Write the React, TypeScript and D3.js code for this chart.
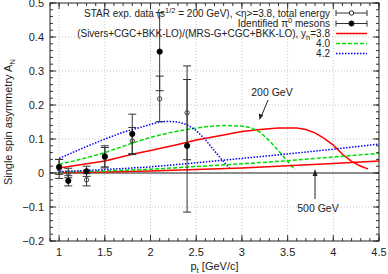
import React from "react";
import * as d3 from "d3";

// measured points (STAR)
const ptData = [1.0, 1.1, 1.3, 1.5, 1.8, 2.1, 2.4];
const piZero = [0.018, -0.023, 0.005, 0.049, 0.115, 0.357, 0.08];
const piZeroErr = [0.022, 0.015, 0.015, 0.031, 0.058, 0.115, 0.195];
const totalE = [0.012, 0.0, -0.02, 0.045, 0.094, 0.218, 0.177];
const totalEErr = [0.028, 0.014, 0.018, 0.03, 0.04, 0.067, 0.138];

// model curves, 200 GeV
const red200X = [1.0, 1.5, 1.8, 2.0, 2.3, 2.5, 2.8, 3.0, 3.2, 3.4, 3.6, 3.7, 3.8, 3.9, 4.0, 4.1, 4.2, 4.3, 4.38];
const red200Y = [0.015, 0.035, 0.055, 0.066, 0.084, 0.097, 0.112, 0.122, 0.128, 0.132, 0.132, 0.128, 0.118, 0.102, 0.082, 0.055, 0.034, 0.02, 0.012];
const green200X = [1.0, 1.3, 1.5, 1.8, 2.0, 2.2, 2.4, 2.6, 2.8, 3.0, 3.1, 3.2, 3.3, 3.4, 3.5, 3.58];
const green200Y = [0.025, 0.045, 0.06, 0.088, 0.105, 0.118, 0.128, 0.136, 0.14, 0.138, 0.133, 0.12, 0.095, 0.065, 0.035, 0.01];
const blue200X = [1.0, 1.3, 1.5, 1.7, 1.9, 2.0, 2.1, 2.2, 2.3, 2.4, 2.5, 2.6, 2.7, 2.8, 2.87];
const blue200Y = [0.043, 0.078, 0.1, 0.12, 0.135, 0.143, 0.15, 0.152, 0.15, 0.142, 0.125, 0.098, 0.065, 0.033, 0.012];

// model curves, 500 GeV
const x500 = [1.0, 1.5, 2.0, 2.5, 3.0, 3.5, 4.0, 4.5];
const red500 = [0.001, 0.003, 0.006, 0.01, 0.015, 0.021, 0.028, 0.035];
const green500 = [0.003, 0.006, 0.011, 0.019, 0.027, 0.036, 0.047, 0.058];
const blue500 = [0.004, 0.01, 0.018, 0.03, 0.043, 0.056, 0.07, 0.085];

const xTicks = [1, 1.5, 2, 2.5, 3, 3.5, 4, 4.5];
const yTicks = [-0.2, -0.1, 0, 0.1, 0.2, 0.3, 0.4, 0.5];

const W = 388;
const H = 274;
const left = 50;
const right = 379;
const top = 3;
const bottom = 241;

const FONT = "'Liberation Sans', Arial, Helvetica, sans-serif";
const RED = "#ff0000";
const GREEN = "#00dd00";
const BLUE = "#0000ff";
const BAR = "#333";

export default function App() {
  const x = d3.scaleLinear().domain([0.9, 4.5]).range([left, right]);
  const y = d3.scaleLinear().domain([-0.2, 0.5]).range([bottom, top]);
  const line = d3
    .line<[number, number]>()
    .x((d) => x(d[0]))
    .y((d) => y(d[1]));
  const zip = (xs: number[], ys: number[]) => xs.map((v, i) => [v, ys[i]] as [number, number]);

  const curves = [
    { d: zip(red200X, red200Y), c: RED, dash: "none", w: 1.5 },
    { d: zip(green200X, green200Y), c: GREEN, dash: "4,2", w: 1.5 },
    { d: zip(blue200X, blue200Y), c: BLUE, dash: "1.5,1.5", w: 1.5 },
    { d: zip(x500, red500), c: RED, dash: "none", w: 1.5 },
    { d: zip(x500, green500), c: GREEN, dash: "4,2", w: 1.5 },
    { d: zip(x500, blue500), c: BLUE, dash: "1.5,1.5", w: 1.5 },
  ];

  const xMinor = d3.range(0.9, 4.5001, 0.1);
  const yMinor = d3.range(-0.2, 0.5001, 0.02);

  const errBar = (xs: number[], ys: number[], es: number[], filled: boolean) =>
    xs.map((v, i) => {
      const cx = x(v);
      const y1 = y(ys[i] + es[i]);
      const y2 = y(ys[i] - es[i]);
      return (
        <g key={(filled ? "f" : "o") + i}>
          <line x1={cx} x2={cx} y1={y1} y2={y2} stroke={BAR} strokeWidth={1} />
          <line x1={cx - 4} x2={cx + 4} y1={y1} y2={y1} stroke={BAR} strokeWidth={1} />
          <line x1={cx - 4} x2={cx + 4} y1={y2} y2={y2} stroke={BAR} strokeWidth={1} />
          <circle
            cx={cx}
            cy={y(ys[i])}
            r={filled ? 2.6 : 2.2}
            fill={filled ? "#000" : "none"}
            stroke={filled ? "#000" : "#444"}
            strokeWidth={1}
          />
        </g>
      );
    });

  const legRight = 330;
  const sx1 = 336;
  const sx2 = 367;
  const rows = [13, 23.5, 33.5, 43.5, 53.5];

  return (
    <svg
      width={W}
      height={H}
      style={{ position: "absolute", left: 0, top: 0, background: "#fff" }}
      fontFamily={FONT}
    >
      <defs>
        <clipPath id="plotclip">
          <rect x={left} y={top} width={right - left} height={bottom - top} />
        </clipPath>
      </defs>

      {/* grid */}
      {xTicks.slice(0, -1).map((t) => (
        <line key={"gx" + t} x1={x(t)} x2={x(t)} y1={top} y2={bottom} stroke="#bbb" strokeWidth={0.8} strokeDasharray="1,2" />
      ))}
      {yTicks.slice(1, -1).map((t) => (
        <line key={"gy" + t} x1={left} x2={right} y1={y(t)} y2={y(t)} stroke="#bbb" strokeWidth={0.8} strokeDasharray="1,2" />
      ))}

      {/* zero line */}
      <line x1={left} x2={right} y1={y(0)} y2={y(0)} stroke="#222" strokeWidth={1} />

      {/* ticks */}
      {xMinor.map((t, i) => (
        <g key={"mx" + i}>
          <line x1={x(t)} x2={x(t)} y1={bottom} y2={bottom - 3} stroke="#333" />
          <line x1={x(t)} x2={x(t)} y1={top} y2={top + 3} stroke="#333" />
        </g>
      ))}
      {xTicks.map((t) => (
        <g key={"tx" + t}>
          <line x1={x(t)} x2={x(t)} y1={bottom} y2={bottom - 6} stroke="#333" />
          <line x1={x(t)} x2={x(t)} y1={top} y2={top + 6} stroke="#333" />
          <text x={x(t)} y={bottom + 15} fontSize={11} textAnchor="middle" fill="#222">
            {d3.format("")(t)}
          </text>
        </g>
      ))}
      {yMinor.map((t, i) => (
        <g key={"my" + i}>
          <line x1={left} x2={left + 3} y1={y(t)} y2={y(t)} stroke="#333" />
          <line x1={right} x2={right - 3} y1={y(t)} y2={y(t)} stroke="#333" />
        </g>
      ))}
      {yTicks.map((t) => (
        <g key={"ty" + t}>
          <line x1={left} x2={left + 6} y1={y(t)} y2={y(t)} stroke="#333" />
          <line x1={right} x2={right - 6} y1={y(t)} y2={y(t)} stroke="#333" />
          <text x={left - 6} y={y(t) + 4} fontSize={11} textAnchor="end" fill="#222">
            {t === 0 ? "0" : d3.format(".1f")(t)}
          </text>
        </g>
      ))}

      {/* curves and data */}
      <g clipPath="url(#plotclip)">
        {curves.map((c, i) => (
          <path key={"c" + i} d={line(c.d) || ""} fill="none" stroke={c.c} strokeWidth={c.w} strokeDasharray={c.dash} />
        ))}
        {errBar(ptData, totalE, totalEErr, false)}
        {errBar(ptData, piZero, piZeroErr, true)}
      </g>

      {/* frame */}
      <rect x={left} y={top} width={right - left} height={bottom - top} fill="none" stroke="#222" strokeWidth={1} />

      {/* annotations */}
      <text x={272} y={96} fontSize={10.5} textAnchor="middle" fill="#222">200 GeV</text>
      <line x1={268} y1={100} x2={261} y2={117} stroke="#222" strokeWidth={1} />
      <path d="M259.5,120 L258.8,113.5 L263.2,115.2 Z" fill="#222" />
      <text x={318} y={212} fontSize={10.5} textAnchor="middle" fill="#222">500 GeV</text>
      <line x1={x(3.8)} y1={199} x2={x(3.8)} y2={173} stroke="#222" strokeWidth={1} />
      <path d={`M${x(3.8)},169 L${x(3.8) - 2.5},176 L${x(3.8) + 2.5},176 Z`} fill="#222" />

      {/* legend */}
      <g fontSize={10} fill="#222">
        <text x={legRight} y={rows[0] + 3.5} textAnchor="end">
          STAR exp. data (s<tspan dy={-4} fontSize={7.5}>1/2</tspan>
          <tspan dy={4}> = 200 GeV), &lt;η&gt;=3.8, total energy</tspan>
        </text>
        <text x={legRight} y={rows[1] + 3.5} textAnchor="end">
          Identified π<tspan dy={-4} fontSize={7.5}>0</tspan>
          <tspan dy={4}> mesons</tspan>
        </text>
        <text x={legRight} y={rows[2] + 3.5} textAnchor="end">
          (Sivers+CGC+BKK-LO)/(MRS-G+CGC+BKK-LO), y<tspan dy={2.5} fontSize={7.5}>h</tspan>
          <tspan dy={-2.5}>=3.8</tspan>
        </text>
        <text x={legRight} y={rows[3] + 3.5} textAnchor="end">4.0</text>
        <text x={legRight} y={rows[4] + 3.5} textAnchor="end">4.2</text>
      </g>
      {[0, 1].map((k) => (
        <g key={"le" + k}>
          <line x1={sx1} x2={sx2} y1={rows[k]} y2={rows[k]} stroke={BAR} />
          <line x1={sx1} x2={sx1} y1={rows[k] - 3} y2={rows[k] + 3} stroke={BAR} />
          <line x1={sx2} x2={sx2} y1={rows[k] - 3} y2={rows[k] + 3} stroke={BAR} />
          <circle
            cx={(sx1 + sx2) / 2}
            cy={rows[k]}
            r={k === 1 ? 2.6 : 2.2}
            fill={k === 1 ? "#000" : "#fff"}
            stroke="#222"
          />
        </g>
      ))}
      <line x1={sx1} x2={sx2} y1={rows[2]} y2={rows[2]} stroke={RED} strokeWidth={1.5} />
      <line x1={sx1} x2={sx2} y1={rows[3]} y2={rows[3]} stroke={GREEN} strokeWidth={1.5} strokeDasharray="4,2" />
      <line x1={sx1} x2={sx2} y1={rows[4]} y2={rows[4]} stroke={BLUE} strokeWidth={1.5} strokeDasharray="1.5,1.5" />

      {/* axis titles */}
      <text x={(left + right) / 2} y={270} fontSize={11} textAnchor="middle" fill="#222">
        p<tspan dy={3} fontSize={8}>t</tspan>
        <tspan dy={-3}> [GeV/c]</tspan>
      </text>
      <text
        transform={`translate(12,${(top + bottom) / 2}) rotate(-90)`}
        fontSize={11}
        textAnchor="middle"
        fill="#222"
      >
        Single spin asymmetry A<tspan dy={3} fontSize={8}>N</tspan>
      </text>
    </svg>
  );
}
